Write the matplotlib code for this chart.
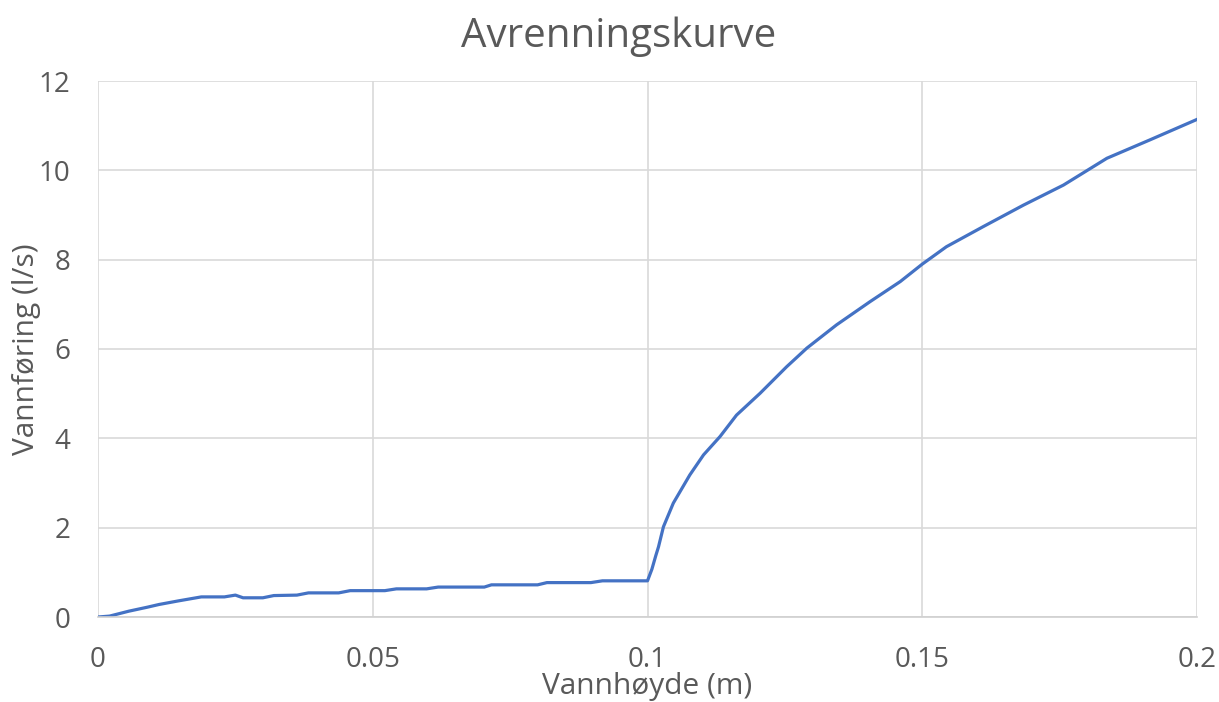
import matplotlib.pyplot as plt

# Vannhøyde (m) and vannføring (l/s)
hoyde = [0.0, 0.0021, 0.0056, 0.009, 0.0111, 0.0146, 0.0188, 0.023, 0.025, 0.0264,
         0.030, 0.032, 0.0362, 0.0383, 0.0438, 0.0459, 0.0522, 0.0543, 0.0598,
         0.0619, 0.0703, 0.0716, 0.080, 0.0817, 0.0897, 0.0918, 0.100,
         0.1008, 0.1015, 0.102, 0.1029, 0.1047, 0.1077, 0.1102, 0.1132, 0.1162,
         0.1205, 0.1253, 0.129, 0.1344, 0.1405, 0.146, 0.150, 0.1544, 0.1611,
         0.1684, 0.1757, 0.1836, 0.1914, 0.200]
foring = [0.0, 0.02, 0.13, 0.22, 0.28, 0.36, 0.45, 0.45, 0.49, 0.43,
          0.43, 0.48, 0.49, 0.54, 0.54, 0.59, 0.59, 0.63, 0.63,
          0.67, 0.67, 0.72, 0.72, 0.77, 0.77, 0.81, 0.81,
          1.07, 1.37, 1.57, 2.02, 2.55, 3.18, 3.63, 4.04, 4.52,
          5.01, 5.60, 6.02, 6.54, 7.06, 7.51, 7.90, 8.29, 8.74,
          9.22, 9.67, 10.27, 10.68, 11.14]

xticks = [0, 0.05, 0.1, 0.15, 0.2]
xticklabels = ['0', '0.05', '0.1', '0.15', '0.2']
yticks = [0, 2, 4, 6, 8, 10, 12]

grey = '#595959'
plt.rcParams['font.family'] = ['Open Sans', 'DejaVu Sans']

W, H = 1219, 702
fig = plt.figure(figsize=(W/100, H/100), dpi=100)
ax = fig.add_axes([98/W, 1 - 617/H, (1197 - 98)/W, (617 - 81)/H])

ax.plot(hoyde, foring, color='#4472C4', lw=2.3, solid_joinstyle='round')

ax.set_xlim(0, 0.2)
ax.set_ylim(0, 12)
ax.set_xticks(xticks)
ax.set_xticklabels(xticklabels)
ax.set_yticks(yticks)
ax.grid(True, color='#d9d9d9', lw=1.2)
ax.set_axisbelow(True)
for side in ['top', 'right', 'left']:
    ax.spines[side].set_visible(False)
ax.spines['bottom'].set_color('#d0d0d0')
ax.spines['bottom'].set_linewidth(1.2)
ax.tick_params(length=0, labelsize=20, labelcolor=grey)
ax.tick_params(axis='y', pad=20)
ax.tick_params(axis='x', pad=21)

fig.text(619/W, 1 - 47/H, 'Avrenningskurve', fontsize=29, color=grey,
         ha='center', va='baseline')
fig.text(27/W, 1 - 349/H, 'Vannføring (l/s)', fontsize=21.5, color=grey,
         rotation=90, ha='center', va='center')
fig.text(647/W, 1 - 694/H, 'Vannhøyde (m)', fontsize=21.5, color=grey,
         ha='center', va='baseline')

plt.savefig('out.png', dpi=100)
